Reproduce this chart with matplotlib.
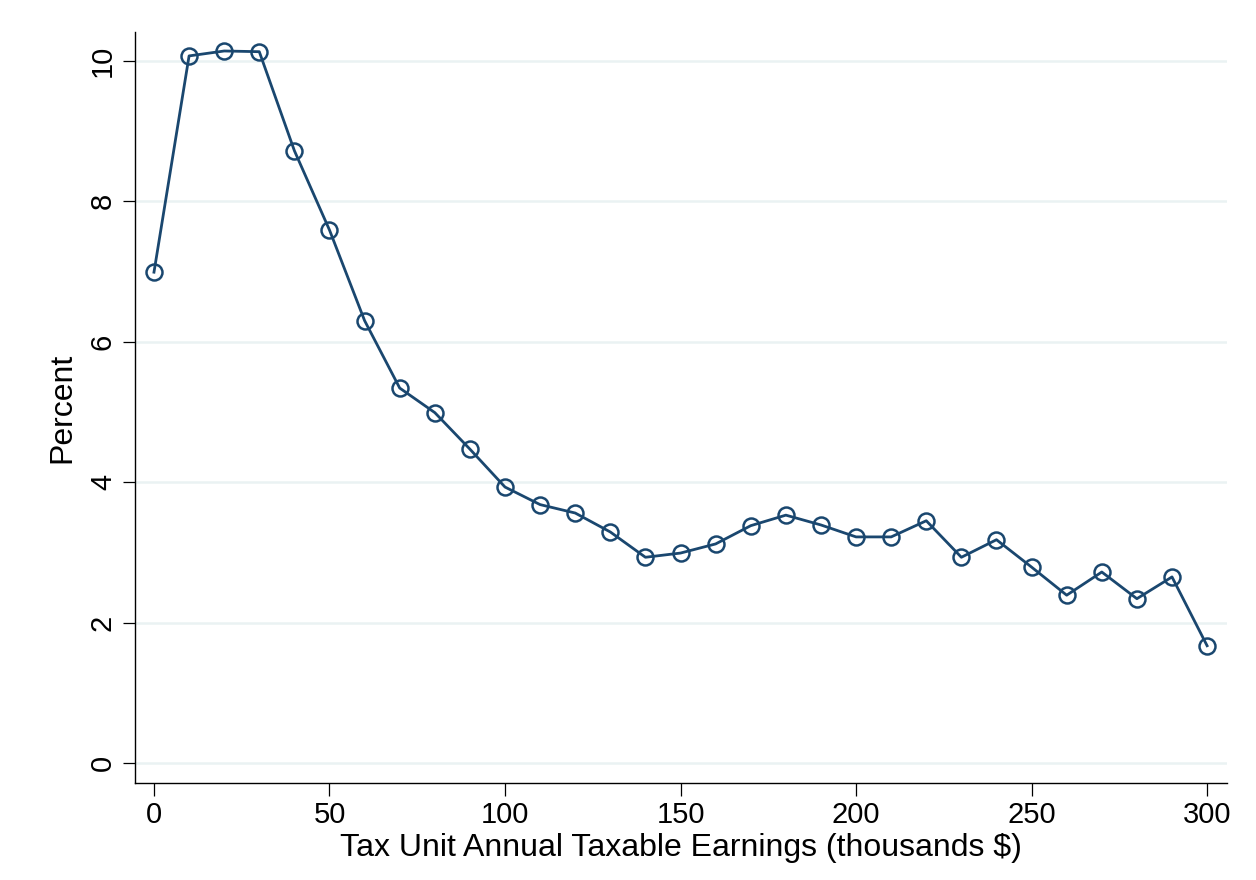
import matplotlib
matplotlib.use('Agg')
from matplotlib import pyplot as plt

###### Data ######

earnings = [0, 10, 20, 30, 40, 50, 60, 70, 80, 90, 100, 110, 120, 130, 140, 150,
            160, 170, 180, 190, 200, 210, 220, 230, 240, 250, 260, 270, 280, 290, 300]
percent = [6.99, 10.07, 10.14, 10.13, 8.72, 7.59, 6.30, 5.34, 4.99, 4.47, 3.93, 3.68,
           3.56, 3.29, 2.93, 2.99, 3.12, 3.38, 3.53, 3.39, 3.22, 3.22, 3.45, 2.93,
           3.18, 2.79, 2.39, 2.72, 2.34, 2.65, 1.67]
xticks = [0, 50, 100, 150, 200, 250, 300]
yticks = [0, 2, 4, 6, 8, 10]

###### Plot ######

plt.rcParams['font.family'] = ['Liberation Sans', 'DejaVu Sans']

fig = plt.figure(figsize=(12.56, 8.8), dpi=100)
ax = fig.add_axes([0.1075, 0.1102, 0.8695, 0.8534])

navy = '#1a476f'
ax.plot(earnings, percent, color=navy, linewidth=2.0, marker='o', markersize=11.5,
        markerfacecolor='none', markeredgecolor=navy, markeredgewidth=1.8, zorder=3)

ax.set_xlim(-5.4, 305.7)
ax.set_ylim(-0.285, 10.41)
ax.set_xticks(xticks)
ax.set_yticks(yticks)
ax.yaxis.grid(True, color='#eaf2f3', linewidth=1.8)
ax.set_axisbelow(True)

for side in ['top', 'right']:
    ax.spines[side].set_visible(False)
for side in ['left', 'bottom']:
    ax.spines[side].set_linewidth(1.0)

ax.tick_params(axis='both', direction='out', length=9, width=0.9, labelsize=21, pad=4)
plt.setp(ax.get_yticklabels(), rotation=90, va='center')

ax.set_xlabel('Tax Unit Annual Taxable Earnings (thousands $)', fontsize=23, labelpad=3)
ax.set_ylabel('Percent', fontsize=23, labelpad=8)

fig.savefig('out.png', dpi=100)
